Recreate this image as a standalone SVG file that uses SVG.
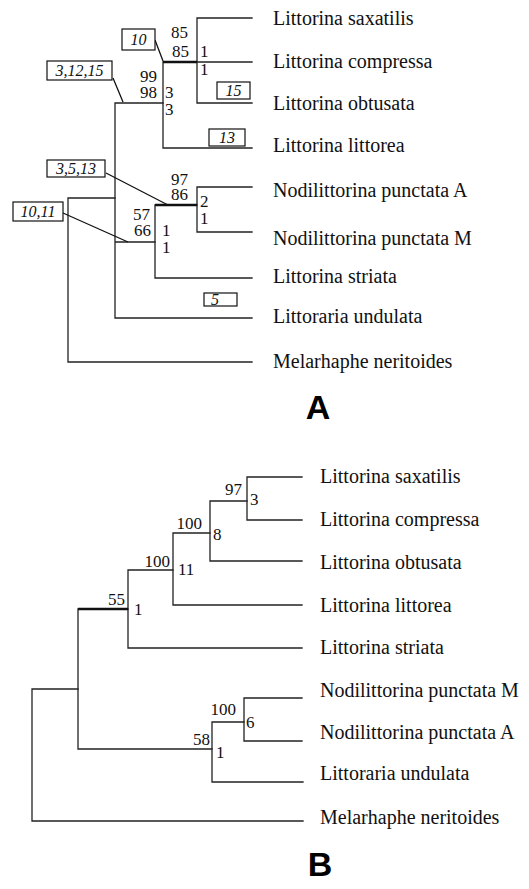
<svg xmlns="http://www.w3.org/2000/svg" width="529" height="889" viewBox="0 0 529 889">
<style>
.br{stroke:#222;stroke-width:1.3;fill:none;stroke-linecap:square}
.thick{stroke:#111;stroke-width:2.6;fill:none}
.lead{stroke:#111;stroke-width:1.3;fill:none}
.box{fill:#fff;stroke:#111;stroke-width:1.2}
.tx{font-family:"Liberation Serif","Times New Roman",serif;font-size:20px;fill:#111}
.num{font-family:"Liberation Serif","Times New Roman",serif;font-size:17px;fill:#111}
.bt{font-family:"Liberation Serif","Times New Roman",serif;font-size:16px;font-style:italic;fill:#111}
.big{font-family:"Liberation Sans",Arial,sans-serif;font-size:34px;font-weight:bold;fill:#000}
</style>
<rect width="529" height="889" fill="#fff"/>
<g id="connectors">
<!-- Tree A -->
<path class="br" d="M68,198V362M68,198H115M68,362H252"/>
<path class="br" d="M115,103V318M115,103H163M115,318H252M115,242H155"/>
<path class="br" d="M163,62V148M163,62H252M163,148H252"/>
<path class="br" d="M197,18V103M197,18H252M197,103H252"/>
<path class="br" d="M155,205V278M155,205H197M155,278H252"/>
<path class="br" d="M197,187V232M197,187H252M197,232H252"/>
<path class="thick" d="M163,62H197M155,205H197"/>
<path class="lead" d="M155,40L163,61M113,78L123,102M106,173L168,205M63,213L128,242"/>
<!-- Tree B -->
<path class="br" d="M32,689V821M32,689H78M32,821H303"/>
<path class="br" d="M78,609V749M78,609H128M78,749H212"/>
<path class="br" d="M128,570V648M128,570H173M128,648H302"/>
<path class="br" d="M173,533V605M173,533H210M173,605H302"/>
<path class="br" d="M210,501V561M210,501H247M210,561H302"/>
<path class="br" d="M247,477V520M247,477H302M247,520H302"/>
<path class="br" d="M212,722V782M212,722H244M212,782H303"/>
<path class="br" d="M244,698V741M244,698H302M244,741H302"/>
<path class="thick" d="M78,609H128"/>
</g>
<g id="boxes-A">
<g id="box-10"><rect class="box" x="122" y="29" width="33" height="21"/><text class="bt" x="138.5" y="45" text-anchor="middle">10</text></g>
<g id="box-3-12-15"><rect class="box" x="47" y="61" width="65" height="19"/><text class="bt" x="79.5" y="76" text-anchor="middle">3,12,15</text></g>
<g id="box-15"><rect class="box" x="217" y="82" width="33" height="17"/><text class="bt" x="233.5" y="96" text-anchor="middle">15</text></g>
<g id="box-13"><rect class="box" x="209" y="129" width="36" height="17"/><text class="bt" x="227" y="143" text-anchor="middle">13</text></g>
<g id="box-3-5-13"><rect class="box" x="47" y="160" width="58" height="17"/><text class="bt" x="76" y="174" text-anchor="middle">3,5,13</text></g>
<g id="box-10-11"><rect class="box" x="13" y="202" width="50" height="19"/><text class="bt" x="38" y="217" text-anchor="middle">10,11</text></g>
<g id="box-5"><rect class="box" x="204" y="293" width="33" height="13"/><text class="bt" x="215" y="305" text-anchor="middle">5</text></g>
</g>
<g id="numbers-A">
<text class="num" x="188" y="38" text-anchor="end">85</text>
<text class="num" x="189" y="57" text-anchor="end">85</text>
<text class="num" x="200" y="57">1</text>
<text class="num" x="200" y="75">1</text>
<text class="num" x="157" y="82" text-anchor="end">99</text>
<text class="num" x="157" y="98" text-anchor="end">98</text>
<text class="num" x="165" y="98">3</text>
<text class="num" x="165" y="115">3</text>
<text class="num" x="188" y="185" text-anchor="end">97</text>
<text class="num" x="188" y="200" text-anchor="end">86</text>
<text class="num" x="200" y="207">2</text>
<text class="num" x="200" y="224">1</text>
<text class="num" x="150" y="220" text-anchor="end">57</text>
<text class="num" x="151" y="236" text-anchor="end">66</text>
<text class="num" x="162" y="236">1</text>
<text class="num" x="162" y="253">1</text>
</g>
<g id="taxa-A">
<text class="tx" x="273" y="25">Littorina saxatilis</text>
<text class="tx" x="273" y="68">Littorina compressa</text>
<text class="tx" x="273" y="110">Littorina obtusata</text>
<text class="tx" x="273" y="152">Littorina littorea</text>
<text class="tx" x="273" y="197">Nodilittorina punctata A</text>
<text class="tx" x="273" y="245">Nodilittorina punctata M</text>
<text class="tx" x="273" y="283">Littorina striata</text>
<text class="tx" x="273" y="323">Littoraria undulata</text>
<text class="tx" x="273" y="368">Melarhaphe neritoides</text>
</g>
<g id="label-A"><text class="big" x="318" y="419" text-anchor="middle">A</text></g>
<g id="numbers-B">
<text class="num" x="242" y="495" text-anchor="end">97</text>
<text class="num" x="250" y="505">3</text>
<text class="num" x="202" y="529" text-anchor="end">100</text>
<text class="num" x="213" y="540">8</text>
<text class="num" x="170" y="567" text-anchor="end">100</text>
<text class="num" x="178" y="575">11</text>
<text class="num" x="125" y="605" text-anchor="end">55</text>
<text class="num" x="134" y="615">1</text>
<text class="num" x="236" y="715" text-anchor="end">100</text>
<text class="num" x="246" y="728">6</text>
<text class="num" x="210" y="745" text-anchor="end">58</text>
<text class="num" x="216" y="758">1</text>
</g>
<g id="taxa-B">
<text class="tx" x="320" y="483">Littorina saxatilis</text>
<text class="tx" x="320" y="526">Littorina compressa</text>
<text class="tx" x="320" y="569">Littorina obtusata</text>
<text class="tx" x="320" y="612">Littorina littorea</text>
<text class="tx" x="320" y="654">Littorina striata</text>
<text class="tx" x="320" y="697">Nodilittorina punctata M</text>
<text class="tx" x="320" y="739">Nodilittorina punctata A</text>
<text class="tx" x="320" y="780">Littoraria undulata</text>
<text class="tx" x="320" y="824">Melarhaphe neritoides</text>
</g>
<g id="label-B"><text class="big" x="320" y="876" text-anchor="middle">B</text></g>
</svg>
